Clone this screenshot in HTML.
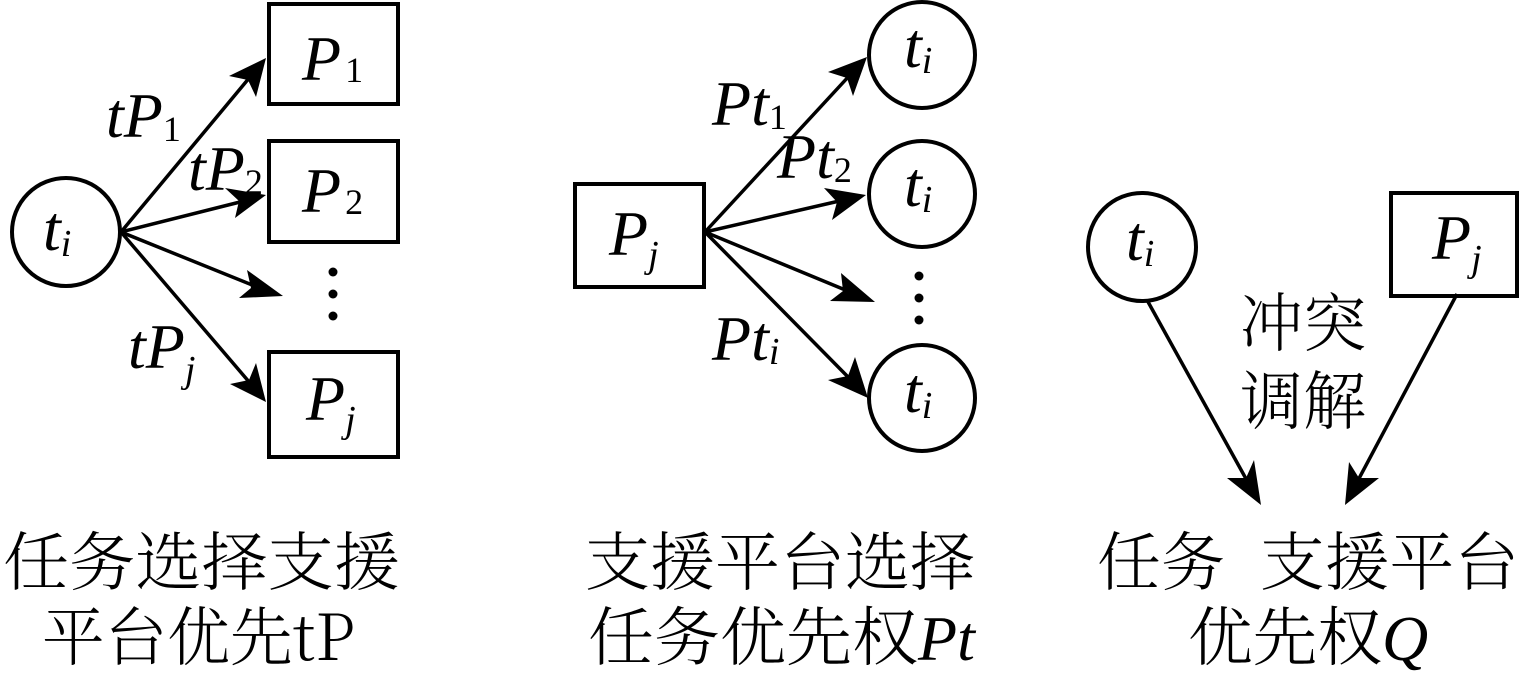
<!DOCTYPE html>
<html><head><meta charset="utf-8"><style>
html,body{margin:0;padding:0;background:#fff;}
svg{display:block;}
.m{font-family:"Liberation Serif",serif;font-style:italic;font-size:64px;}
.s{font-family:"Liberation Serif",serif;font-style:normal;font-size:36px;}
.si{font-family:"Liberation Serif",serif;font-style:italic;font-size:38px;}
.c{font-family:"Noto Serif CJK SC","Liberation Serif",serif;font-size:64px;font-weight:300;}
</style></head><body>
<svg width="1528" height="685" viewBox="0 0 1528 685" xmlns="http://www.w3.org/2000/svg">
<g fill="none" stroke="#000" stroke-width="4">
<circle cx="66" cy="232" r="54"/>
<rect x="269" y="4" width="129" height="100"/>
<rect x="269" y="141" width="129" height="101"/>
<rect x="269" y="352" width="129" height="105"/>
<rect x="575" y="184" width="129" height="103"/>
<circle cx="922" cy="55" r="53"/>
<circle cx="922" cy="194" r="53"/>
<circle cx="922" cy="398" r="53"/>
<circle cx="1142" cy="247" r="54"/>
<rect x="1391" y="193" width="126" height="103"/>
</g>
<g stroke="#000" stroke-width="3.5" fill="none">
<line x1="121" y1="232" x2="250" y2="77"/>
<line x1="121" y1="232" x2="248" y2="200"/>
<line x1="121" y1="232" x2="262" y2="289"/>
<line x1="121" y1="232" x2="250" y2="383"/>
<line x1="705" y1="232" x2="850" y2="75"/>
<line x1="705" y1="232" x2="848" y2="199"/>
<line x1="705" y1="232" x2="855" y2="294"/>
<line x1="705" y1="232" x2="852" y2="381"/>
<line x1="1147" y1="300" x2="1250" y2="486"/>
<line x1="1457" y1="294" x2="1355" y2="486"/>
</g>
<g fill="#000">
<polygon points="266,58 256,97 248,80 229,76"/>
<polygon points="266,195 235,218 239,201 225,188"/>
<polygon points="283,296 239,298 251,288 247,270"/>
<polygon points="266,402 230,384 249,380 256,363"/>
<polygon points="867,57 853,96 847,78 828,72"/>
<polygon points="866,195 832,220 837,202 824,188"/>
<polygon points="875,302 830,301 843,291 841,273"/>
<polygon points="868,398 828,380 848,376 855,357"/>
<polygon points="1261,505 1227,478 1246,478 1254,460"/>
<polygon points="1345,505 1349,462 1359,478 1379,478"/>
<circle cx="333" cy="272" r="4.5"/><circle cx="333" cy="294" r="4.5"/><circle cx="333" cy="316" r="4.5"/>
<circle cx="919" cy="276" r="4.5"/><circle cx="919" cy="298" r="4.5"/><circle cx="919" cy="320" r="4.5"/>
</g>
<g fill="#000">
<text x="43" y="250" class="m">t<tspan class="si" dy="6">i</tspan></text>
<text x="302" y="80" class="m">P<tspan class="s" dx="4" dy="2">1</tspan></text>
<text x="302" y="212" class="m">P<tspan class="s" dx="4" dy="2">2</tspan></text>
<text x="306" y="420" class="m">P<tspan class="si" dx="0" dy="12">j</tspan></text>
<text x="106" y="137" class="m">tP<tspan class="s" dx="0" dy="4">1</tspan></text>
<text x="188" y="190" class="m">tP<tspan class="s" dx="0" dy="4">2</tspan></text>
<text x="128" y="368" class="m">tP<tspan class="si" dx="0" dy="14">j</tspan></text>
<text x="609" y="255" class="m">P<tspan class="si" dx="0" dy="12">j</tspan></text>
<text x="712" y="125" class="m">Pt<tspan class="s" dx="0" dy="4">1</tspan></text>
<text x="777" y="178" class="m">Pt<tspan class="s" dx="0" dy="4">2</tspan></text>
<text x="712" y="360" class="m">Pt<tspan class="si" dx="0" dy="4">i</tspan></text>
<text x="904" y="67" class="m">t<tspan class="si" dy="6">i</tspan></text>
<text x="904" y="206" class="m">t<tspan class="si" dy="6">i</tspan></text>
<text x="904" y="412" class="m">t<tspan class="si" dy="6">i</tspan></text>
<text x="1126" y="260" class="m">t<tspan class="si" dy="6">i</tspan></text>
<text x="1432" y="259" class="m">P<tspan class="si" dx="0" dy="12">j</tspan></text>
<text x="1240" y="346" class="c" font-size="62" textLength="126" lengthAdjust="spacingAndGlyphs">冲突</text>
<text x="1240" y="424" class="c" font-size="62" textLength="126" lengthAdjust="spacingAndGlyphs">调解</text>
<text x="3" y="585" class="c" textLength="397" lengthAdjust="spacingAndGlyphs">任务选择支援</text>
<text x="42" y="660" class="c" textLength="313" lengthAdjust="spacingAndGlyphs">平台优先tP</text>
<text x="585" y="585" class="c" textLength="390" lengthAdjust="spacingAndGlyphs">支援平台选择</text>
<text x="588" y="660" class="c" textLength="330" lengthAdjust="spacingAndGlyphs">任务优先权</text>
<text x="918" y="660" class="m" font-size="66">Pt</text>
<text x="1097" y="585" class="c" textLength="128" lengthAdjust="spacingAndGlyphs">任务</text>
<text x="1260" y="585" class="c" textLength="259" lengthAdjust="spacingAndGlyphs">支援平台</text>
<text x="1188" y="660" class="c" textLength="194" lengthAdjust="spacingAndGlyphs">优先权</text>
<text x="1382" y="660" class="m" font-size="66">Q</text>
</g>
</svg>
</body></html>
